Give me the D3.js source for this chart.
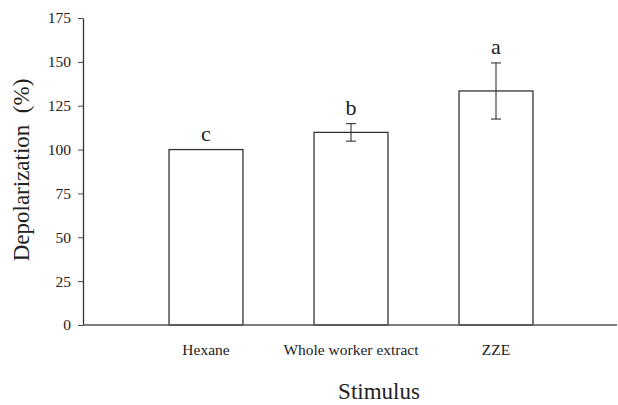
<!DOCTYPE html>
<html><head><meta charset="utf-8">
<script src="https://cdn.jsdelivr.net/npm/d3@7/dist/d3.min.js"></script>
<style>body{margin:0;background:#fff}svg{display:block}</style>
</head><body>
<script>
const categories = ["Hexane", "Whole worker extract", "ZZE"];
const values = [100, 109.8, 133.4];
const errors = [0, 5, 16];
const letters = ["c", "b", "a"];
const yTicks = [0, 25, 50, 75, 100, 125, 150, 175];

const W = 618, H = 405;
const svg = d3.select("body").append("svg").attr("width", W).attr("height", H)
  .style("font-family", "'Liberation Serif','Times New Roman',serif");

const x0 = 83, x1 = 617, yBot = 325, yTop = 18;
const x = d3.scaleBand().domain(categories).range([133.5, 568.5])
  .paddingInner(0.49).paddingOuter(0.245);
const y = d3.scaleLinear().domain([0, 175]).range([yBot, yTop]);

// y axis
const ya = svg.append("g").attr("transform", `translate(${x0},0)`)
  .call(d3.axisLeft(y).tickValues(yTicks).tickSize(5).tickPadding(7).tickSizeOuter(0));
ya.attr("font-family", "'Liberation Serif',serif");
ya.select(".domain").attr("stroke", "#333").attr("stroke-width", 1.3);
ya.selectAll(".tick line").attr("stroke", "#444");
ya.selectAll(".tick text").attr("font-size", 15.5).attr("fill", "#222");

// bars
svg.selectAll("rect.bar").data(categories).join("rect").attr("class", "bar")
  .attr("x", d => x(d)).attr("width", x.bandwidth())
  .attr("y", (d, i) => y(values[i])).attr("height", (d, i) => y(0) - y(values[i]))
  .attr("fill", "#fff").attr("stroke", "#333").attr("stroke-width", 1.3);

// x axis line
svg.append("line").attr("x1", x0).attr("x2", x1).attr("y1", yBot).attr("y2", yBot)
  .attr("stroke", "#555").attr("stroke-width", 1.3);

// error bars
const eg = svg.append("g").attr("stroke", "#333").attr("stroke-width", 1.1);
categories.forEach((c, i) => {
  if (!errors[i]) return;
  const cx = x(c) + x.bandwidth() / 2;
  const t = y(values[i] + errors[i]), b = y(values[i] - errors[i]);
  eg.append("line").attr("x1", cx).attr("x2", cx).attr("y1", t).attr("y2", b);
  eg.append("line").attr("x1", cx - 5).attr("x2", cx + 5).attr("y1", t).attr("y2", t);
  eg.append("line").attr("x1", cx - 5).attr("x2", cx + 5).attr("y1", b).attr("y2", b);
});

// letters
svg.selectAll("text.let").data(categories).join("text").attr("class", "let")
  .attr("x", d => x(d) + x.bandwidth() / 2)
  .attr("y", (d, i) => y(values[i] + errors[i]) - 9)
  .attr("text-anchor", "middle").attr("font-size", 22).attr("fill", "#222")
  .text((d, i) => letters[i]);

// category labels
svg.selectAll("text.cat").data(categories).join("text").attr("class", "cat")
  .attr("x", d => x(d) + x.bandwidth() / 2).attr("y", 355)
  .attr("text-anchor", "middle").attr("font-size", 15.5).attr("fill", "#222")
  .text(d => d);

// axis titles
svg.append("text").attr("x", 379).attr("y", 399).attr("text-anchor", "middle")
  .attr("font-size", 23).attr("fill", "#222").text("Stimulus");
svg.append("text").attr("transform", "translate(29,170) rotate(-90)")
  .attr("text-anchor", "middle").attr("font-size", 23).attr("fill", "#222")
  .style("white-space", "pre")
  .text("Depolarization  (%)");
</script>
</body></html>
